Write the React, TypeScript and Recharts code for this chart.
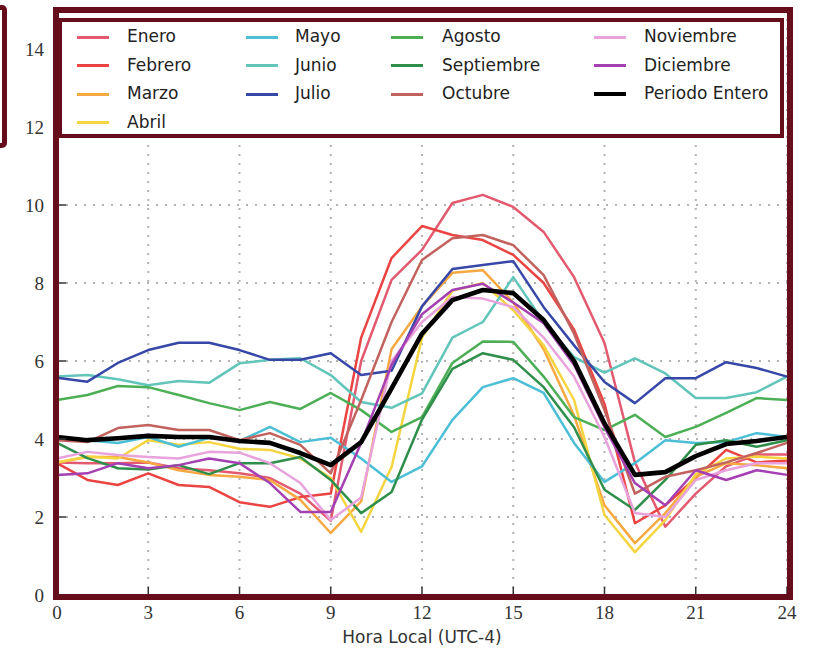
import React from 'react';
import { LineChart, Line, XAxis, YAxis, CartesianGrid } from 'recharts';

// Hourly mean values, local time (UTC-4)
const hours = [0, 1, 2, 3, 4, 5, 6, 7, 8, 9, 10, 11, 12, 13, 14, 15, 16, 17, 18, 19, 20, 21, 22, 23, 24];

const enero = [3.4, 3.38, 3.38, 3.4, 3.25, 3.2, 3.12, 3.0, 2.6, 1.9, 6.0, 8.08, 8.85, 10.05, 10.26, 9.95, 9.31, 8.15, 6.46, 3.4, 1.75, 2.6, 3.3, 3.6, 3.6];
const febrero = [3.38, 2.95, 2.82, 3.12, 2.82, 2.77, 2.38, 2.26, 2.51, 2.6, 6.6, 8.64, 9.46, 9.23, 9.1, 8.72, 8.0, 6.8, 4.9, 1.84, 2.3, 3.0, 3.72, 3.4, 3.45];
const marzo = [3.4, 3.54, 3.54, 3.4, 3.2, 3.08, 3.03, 2.95, 2.44, 1.59, 2.4, 6.3, 7.4, 8.26, 8.33, 7.5, 6.3, 4.6, 2.3, 1.33, 2.1, 3.03, 3.38, 3.33, 3.25];
const abril = [3.4, 3.55, 3.5, 3.97, 3.85, 3.92, 3.75, 3.72, 3.5, 3.0, 1.62, 3.28, 6.6, 7.8, 8.0, 7.3, 6.4, 5.0, 2.05, 1.1, 1.92, 3.1, 3.5, 3.55, 3.5];
const mayo = [4.05, 3.97, 3.9, 4.05, 3.8, 4.03, 3.95, 4.31, 3.92, 4.03, 3.5, 2.9, 3.3, 4.49, 5.33, 5.56, 5.18, 3.9, 2.9, 3.38, 3.97, 3.9, 3.92, 4.15, 4.05];
const junio = [5.6, 5.64, 5.53, 5.38, 5.49, 5.44, 5.94, 6.03, 6.07, 5.64, 4.95, 4.8, 5.17, 6.6, 7.0, 8.15, 7.0, 6.1, 5.7, 6.07, 5.68, 5.05, 5.05, 5.2, 5.6];
const julio = [5.57, 5.47, 5.95, 6.28, 6.47, 6.47, 6.28, 6.03, 6.03, 6.2, 5.64, 5.75, 7.4, 8.36, 8.46, 8.56, 7.38, 6.4, 5.46, 4.92, 5.56, 5.56, 5.97, 5.82, 5.6];
const agosto = [5.0, 5.13, 5.36, 5.33, 5.13, 4.92, 4.74, 4.95, 4.77, 5.18, 4.74, 4.18, 4.56, 5.95, 6.5, 6.49, 5.6, 4.56, 4.23, 4.62, 4.05, 4.31, 4.67, 5.05, 5.0];
const septiembre = [3.9, 3.51, 3.25, 3.22, 3.33, 3.1, 3.38, 3.38, 3.54, 2.95, 2.1, 2.64, 4.5, 5.8, 6.2, 6.03, 5.33, 4.3, 2.7, 2.18, 2.95, 3.85, 3.97, 3.8, 3.97];
const octubre = [3.97, 3.92, 4.28, 4.36, 4.23, 4.23, 3.97, 4.15, 3.85, 3.12, 5.0, 7.0, 8.59, 9.15, 9.23, 8.97, 8.2, 6.7, 4.74, 2.6, 3.03, 3.2, 3.4, 3.64, 3.9];
const noviembre = [3.5, 3.67, 3.59, 3.54, 3.5, 3.67, 3.65, 3.38, 2.87, 1.92, 2.5, 6.0, 7.0, 7.64, 7.6, 7.38, 6.6, 5.6, 4.05, 2.1, 2.0, 2.95, 3.2, 3.38, 3.38];
const diciembre = [3.08, 3.12, 3.38, 3.25, 3.33, 3.5, 3.38, 2.87, 2.13, 2.13, 3.9, 5.9, 7.2, 7.82, 7.98, 7.5, 6.97, 5.9, 4.3, 2.87, 2.3, 3.2, 2.95, 3.2, 3.08];
const periodoEntero = [4.05, 3.97, 4.02, 4.08, 4.05, 4.05, 3.95, 3.9, 3.64, 3.33, 3.92, 5.3, 6.7, 7.56, 7.82, 7.74, 7.05, 6.0, 4.4, 3.08, 3.15, 3.56, 3.87, 3.95, 4.05];

const xTicks = [0, 3, 6, 9, 12, 15, 18, 21, 24];
const yTicks = [0, 2, 4, 6, 8, 10, 12, 14];

type Serie = { key: string; name: string; values: number[]; color: string; width: number };

const series: Serie[] = [
  { key: 'ene', name: 'Enero', values: enero, color: '#e35a70', width: 2.5 },
  { key: 'feb', name: 'Febrero', values: febrero, color: '#ea4443', width: 2.5 },
  { key: 'mar', name: 'Marzo', values: marzo, color: '#f6a841', width: 2.5 },
  { key: 'abr', name: 'Abril', values: abril, color: '#f4d541', width: 2.5 },
  { key: 'may', name: 'Mayo', values: mayo, color: '#4cbfd6', width: 2.5 },
  { key: 'jun', name: 'Junio', values: junio, color: '#62c5ba', width: 2.5 },
  { key: 'jul', name: 'Julio', values: julio, color: '#3747a8', width: 2.5 },
  { key: 'ago', name: 'Agosto', values: agosto, color: '#4caf55', width: 2.5 },
  { key: 'sep', name: 'Septiembre', values: septiembre, color: '#2f8e4a', width: 2.5 },
  { key: 'oct', name: 'Octubre', values: octubre, color: '#c2625e', width: 2.5 },
  { key: 'nov', name: 'Noviembre', values: noviembre, color: '#e8a2dc', width: 2.5 },
  { key: 'dic', name: 'Diciembre', values: diciembre, color: '#a540b2', width: 2.5 },
  { key: 'tot', name: 'Periodo Entero', values: periodoEntero, color: '#000000', width: 4.6 },
];

const rows = hours.map((h, i) => {
  const r: Record<string, number> = { hora: h };
  series.forEach((s) => {
    r[s.key] = s.values[i];
  });
  return r;
});

// legend columns (index lists into series)
const legendColumns = [
  [0, 1, 2, 3],
  [4, 5, 6],
  [7, 8, 9],
  [10, 11, 12],
];
const colSwatchX = [15, 184, 329, 532];
const colTextX = [65, 233, 380, 582];

const MAROON = '#660d1c';
const TICK_FONT = { fill: '#333', fontFamily: '"Liberation Serif", serif', fontSize: 19 };
const TICK_LINE = { stroke: '#333', strokeWidth: 1.5 };

export default function App() {
  return (
    <div
      style={{
        position: 'absolute',
        left: 0,
        top: 0,
        width: 814,
        height: 655,
        background: '#ffffff',
        overflow: 'hidden',
      }}
    >
      <LineChart width={814} height={655} data={rows} margin={{ top: 0, right: 0, bottom: 0, left: 0 }}>
        <CartesianGrid stroke="#b3b3b3" strokeWidth={2} strokeDasharray="2 7" />
        <XAxis
          dataKey="hora"
          type="number"
          domain={[0, 24]}
          ticks={xTicks}
          height={60}
          axisLine={false}
          tickLine={TICK_LINE}
          tickSize={-8}
          tickMargin={19}
          tick={TICK_FONT}
          label={{
            value: 'Hora Local (UTC-4)',
            position: 'insideBottom',
            offset: 12,
            fill: '#333',
            fontFamily: '"DejaVu Sans", sans-serif',
            fontSize: 17,
          }}
        />
        <XAxis
          xAxisId="top"
          orientation="top"
          dataKey="hora"
          type="number"
          domain={[0, 24]}
          ticks={xTicks}
          height={10}
          axisLine={false}
          tickLine={TICK_LINE}
          tickSize={-8}
          tick={false}
        />
        <YAxis
          type="number"
          domain={[0, 15]}
          ticks={yTicks}
          width={57}
          axisLine={false}
          tickLine={TICK_LINE}
          tickSize={-9}
          tickMargin={22}
          tick={TICK_FONT}
        />
        <YAxis
          yAxisId="right"
          orientation="right"
          type="number"
          domain={[0, 15]}
          ticks={yTicks}
          width={27}
          axisLine={false}
          tickLine={TICK_LINE}
          tickSize={-9}
          tick={false}
        />
        {series.map((s) => (
          <Line
            key={s.key}
            dataKey={s.key}
            name={s.name}
            stroke={s.color}
            strokeWidth={s.width}
            dot={false}
            activeDot={false}
            isAnimationActive={false}
            strokeLinejoin="round"
          />
        ))}
      </LineChart>

      {/* plot frame */}
      <div
        style={{
          position: 'absolute',
          left: 53,
          top: 7,
          width: 740,
          height: 593,
          border: `6px solid ${MAROON}`,
          boxSizing: 'border-box',
          pointerEvents: 'none',
        }}
      />
      {/* side bracket */}
      <div
        style={{
          position: 'absolute',
          left: -22,
          top: 5,
          width: 29,
          height: 143,
          border: `5px solid ${MAROON}`,
          borderRadius: 5,
          boxSizing: 'border-box',
        }}
      />

      {/* legend */}
      <div
        style={{
          position: 'absolute',
          left: 58,
          top: 18,
          width: 726,
          height: 120,
          border: `4px solid ${MAROON}`,
          boxSizing: 'border-box',
          background: '#ffffff',
          fontFamily: '"DejaVu Sans", sans-serif',
          fontSize: 17,
          color: '#222',
        }}
      >
        {legendColumns.map((col, ci) =>
          col.map((si, ri) => {
            const s = series[si];
            const cy = 15 + ri * 28.5;
            return (
              <React.Fragment key={s.key}>
                <div
                  style={{
                    position: 'absolute',
                    left: colSwatchX[ci],
                    top: cy - (s.key === 'tot' ? 2 : 1.5),
                    width: 32,
                    height: s.key === 'tot' ? 4 : 3,
                    background: s.color,
                  }}
                />
                <div
                  style={{
                    position: 'absolute',
                    left: colTextX[ci],
                    top: cy - 11,
                    lineHeight: '20px',
                    whiteSpace: 'nowrap',
                  }}
                >
                  {s.name}
                </div>
              </React.Fragment>
            );
          })
        )}
      </div>
    </div>
  );
}
